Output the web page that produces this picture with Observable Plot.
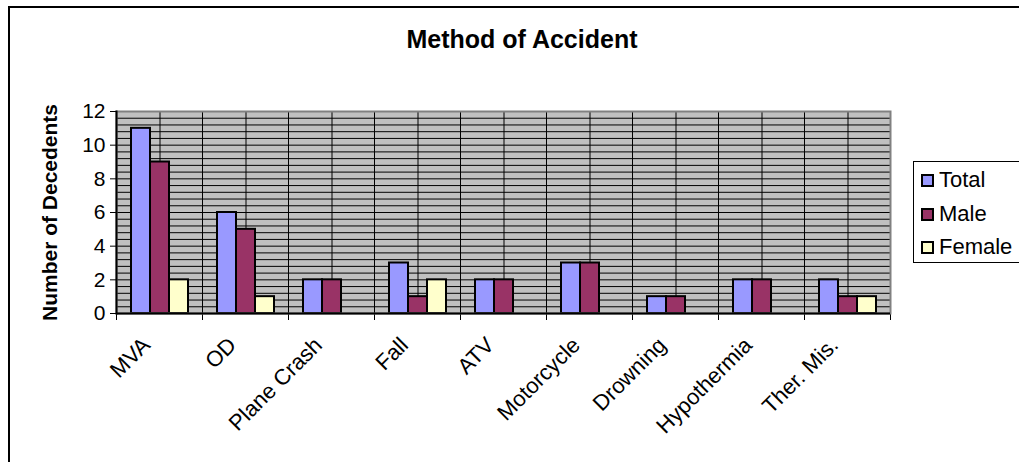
<!DOCTYPE html>
<html><head><meta charset="utf-8">
<script src="https://cdn.jsdelivr.net/npm/d3@7"></script>
<script src="https://cdn.jsdelivr.net/npm/@observablehq/plot@0.6"></script>
<style>
body{margin:0;background:#fff;font-family:Arial,"Liberation Sans",sans-serif;}
#wrap{position:relative;width:1019px;height:462px;overflow:hidden;background:#fff;}
#border{position:absolute;left:8px;top:6px;width:1100px;height:600px;border-left:2px solid #000;border-top:2px solid #000;box-sizing:border-box;pointer-events:none;}
#title{height:60px;box-sizing:border-box;padding-top:27px;width:1044px;text-align:center;font-weight:bold;font-size:25px;line-height:25px;color:#000;}
#legend{position:absolute;left:913px;top:161px;width:120px;height:102px;border:1px solid #000;box-sizing:border-box;background:#fff;padding-top:1px;}
.row{font-size:22px;line-height:33.7px;height:33.7px;white-space:nowrap;color:#000;}
.sw{display:inline-block;width:13px;height:13px;border:2px solid #000;box-sizing:border-box;margin-left:7px;margin-right:5px;}
#chart svg{display:block;overflow:visible;}
g[aria-label="y-axis label"]{font-weight:bold;}
</style>
</head><body>
<div id="wrap">
  <div id="title">Method of Accident</div>
  <div id="chart"></div>
  <div id="legend"></div>
  <div id="border"></div>
</div>
<script>
const categories = ["MVA","OD","Plane Crash","Fall","ATV","Motorcycle","Drowning","Hypothermia","Ther. Mis."];
const series = ["Total","Male","Female"];
const total  = [11, 6, 2, 3, 2, 3, 1, 2, 2];
const male   = [ 9, 5, 2, 1, 2, 3, 1, 2, 1];
const female = [ 2, 1, 0, 2, 0, 0, 0, 0, 1];
const colors = ["#9999ff", "#993366", "#ffffcc"];
const yTicks = [0, 2, 4, 6, 8, 10, 12];
const gridStep = 0.4;
const yMax = 12;

const values = {Total: total, Male: male, Female: female};
const data = categories.flatMap((c, i) => series.map(s => ({category: c, series: s, value: values[s][i]})));
const gridLines = d3.range(gridStep, yMax - 1e-9, gridStep);

const font = "Arial, 'Liberation Sans', sans-serif";

const chart = Plot.plot({
  width: 1019,
  height: 402,
  marginLeft: 113,
  marginRight: 127,
  marginTop: 51,
  marginBottom: 149,
  style: {fontFamily: font, background: "transparent", color: "#000", overflow: "visible"},
  fx: {domain: categories, padding: 0, label: null},
  x: {domain: series, paddingInner: 0, paddingOuter: 0.72, axis: null},
  y: {domain: [0, yMax], label: null},
  color: {domain: series, range: colors},
  marks: [
    Plot.frame({fill: "#c0c0c0"}),
    Plot.ruleY(gridLines, {stroke: "#000", strokeWidth: 1}),
    Plot.ruleX(["Male"], {stroke: "#000", strokeWidth: 1}),
    Plot.frame({anchor: "left", stroke: "#000", strokeWidth: 1, insetBottom: -6}),
    Plot.frame({anchor: "right", stroke: "#000", strokeWidth: 1, insetBottom: -6}),
    Plot.barY(data.filter(d => d.value > 0), {fx: "category", x: "series", y: "value", fill: "series", stroke: "#000", strokeWidth: 2, inset: 0}),
    Plot.frame({facet: "super", stroke: "#808080", strokeWidth: 2}),
    Plot.frame({facet: "super", anchor: "left", stroke: "#000", strokeWidth: 2}),
    Plot.ruleY([0], {stroke: "#000", strokeWidth: 2}),
    Plot.axisY(yTicks, {tickSize: 6, tickPadding: 5, fontSize: 21, fill: "#000", stroke: "#000",
      label: "Number of Decedents", labelAnchor: "center", labelArrow: "none", labelOffset: 74}),
    Plot.axisFx({anchor: "bottom", tickRotate: -45, tickSize: 0, tickPadding: 28, dx: -13, fontSize: 22, fill: "#000", label: null})
  ]
});
document.getElementById("chart").appendChild(chart);

const legend = d3.select("#legend");
series.forEach((s, i) => {
  const row = legend.append("div").attr("class", "row");
  row.append("span").attr("class", "sw").style("background", colors[i]);
  row.append("span").text(s);
});
</script>
</body></html>
